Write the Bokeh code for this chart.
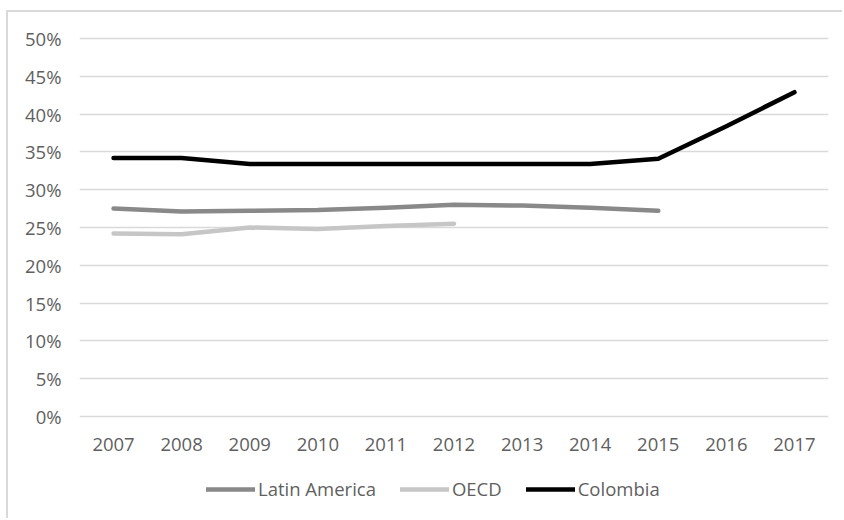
from bokeh.plotting import figure
from bokeh.models import (ColumnDataSource, FactorRange, Range1d, FixedTicker,
                          PrintfTickFormatter, Legend, LegendItem)
from bokeh.embed import file_html
from bokeh.resources import INLINE

years = ["2007", "2008", "2009", "2010", "2011", "2012", "2013", "2014", "2015", "2016", "2017"]
latin_america = [27.5, 27.1, 27.2, 27.3, 27.6, 28.0, 27.9, 27.6, 27.2]
oecd = [24.2, 24.1, 25.0, 24.8, 25.2, 25.5]
colombia = [34.2, 34.2, 33.4, 33.4, 33.4, 33.4, 33.4, 33.4, 34.1, 38.4, 42.9]
y_ticks = [0, 5, 10, 15, 20, 25, 30, 35, 40, 45, 50]

FONT = "Open Sans"
TXT = "#5f5f5f"
GRID = "#d9d9d9"
FS = "18.5px"

p = figure(width=836, height=508, x_range=FactorRange(*years, range_padding=0),
           y_range=Range1d(-13.757, 51.058), output_backend="svg",
           toolbar_location=None, min_border_left=71, min_border_right=16,
           min_border_top=18, min_border_bottom=0)
p.margin = (10, 0, 0, 6)
p.styles = {"border-left": "2px solid #d9d9d9", "border-top": "2px solid #d9d9d9"}
p.outline_line_color = None
p.background_fill_color = "white"
p.border_fill_color = "white"

p.xgrid.grid_line_color = None
p.ygrid.grid_line_color = GRID
p.ygrid.grid_line_width = 1.3

p.yaxis.ticker = FixedTicker(ticks=y_ticks)
p.yaxis.formatter = PrintfTickFormatter(format="%d%%")
p.xaxis.fixed_location = 0
for ax in (p.xaxis[0], p.yaxis[0]):
    ax.axis_line_color = None
    ax.major_tick_line_color = None
    ax.minor_tick_line_color = None
    ax.major_label_text_font = FONT
    ax.major_label_text_font_size = FS
    ax.major_label_text_color = TXT
p.yaxis.major_label_standoff = 12
p.xaxis.major_label_standoff = 16

src_la = ColumnDataSource(dict(x=years[:len(latin_america)], y=latin_america))
src_oe = ColumnDataSource(dict(x=years[:len(oecd)], y=oecd))
src_co = ColumnDataSource(dict(x=years[:len(colombia)], y=colombia))

r_la = p.line("x", "y", source=src_la, line_color="#898989", line_width=4.5,
              line_cap="round", line_join="round")
r_oe = p.line("x", "y", source=src_oe, line_color="#c6c6c6", line_width=4.5,
              line_cap="round", line_join="round")
r_co = p.line("x", "y", source=src_co, line_color="#000000", line_width=4.5,
              line_cap="round", line_join="round")

legend = Legend(items=[LegendItem(label="Latin America", renderers=[r_la]),
                       LegendItem(label="OECD", renderers=[r_oe]),
                       LegendItem(label="Colombia", renderers=[r_co])],
                orientation="horizontal", location=(127, 19))
legend.label_text_font = FONT
legend.label_text_font_size = FS
legend.label_text_color = TXT
legend.glyph_width = 49
legend.glyph_height = 20
legend.label_height = 20
legend.label_standoff = 3
legend.spacing = 24
legend.padding = 0
legend.margin = 0
legend.border_line_color = None
legend.background_fill_alpha = 0
p.add_layout(legend, "center")

open("out.html", "w").write(file_html(p, INLINE))
